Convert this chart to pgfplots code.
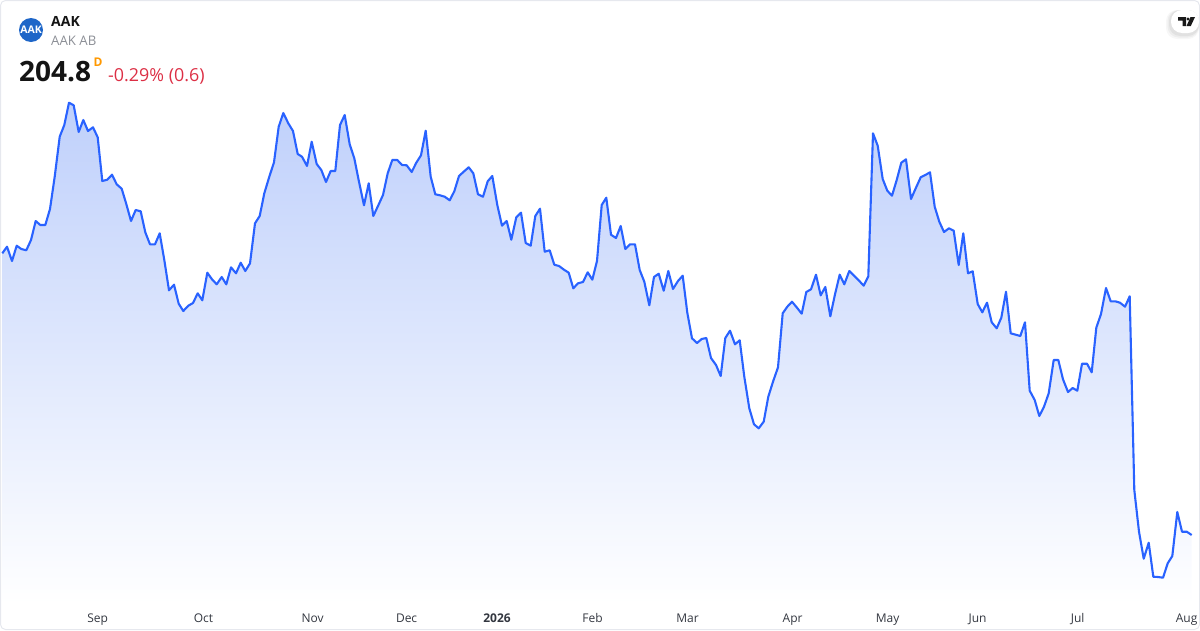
\documentclass[border=0pt]{standalone}
\usepackage{fontspec}
\setmainfont{Open Sans}
\usepackage{pgfplots}
\usepackage{pgfplotstable}
\pgfplotsset{compat=1.18}
\definecolor{lineblue}{HTML}{2962FF}
\definecolor{filltop}{HTML}{BFD0FB}
\definecolor{fillbot}{HTML}{FFFFFF}
\definecolor{cardedge}{HTML}{E6E8EE}
\definecolor{ticktext}{HTML}{333740}
\definecolor{subgray}{HTML}{8C8F96}
\definecolor{downred}{HTML}{DC2F45}
\definecolor{dorange}{HTML}{FF9800}
\definecolor{logoblue}{HTML}{1E66C8}
\pgfplotstableread{
x y
2.3 253.3
7 246.7
12 261
16.7 245.7
21.3 249
26.3 250.3
31 240
35.7 221
40.3 225
45.3 225
50 209
54.7 176.7
59.7 136.7
64.3 125
69 102.7
73.7 105.3
78.7 132
83.3 120
88 131
93 127.3
97.7 137.3
102.3 181
107.3 179.7
112 174.7
116.7 184.3
121.7 188.7
126.3 204
131 221
135.7 210
140.7 211.3
145.3 232.3
150 244.3
155 244.3
159.7 233.3
164.3 260
169 290.3
174 284.7
178.7 303.7
183.3 311
188.3 305.7
193 303
197.7 293.3
202.3 300.3
207.3 272.7
212 279.3
216.7 284.3
221.7 277
226.3 284.3
231 267.3
236 273.3
240.7 262.7
245.3 271
250 263.3
255 223.3
259.7 216
264.3 193.3
269.3 176.7
274 162.3
278.7 126.7
283.3 113
288.3 123.3
293 131
297.7 154
302 156.7
307 166
311.7 141.7
316.7 164
321.3 170
326 182
330.7 171
335.3 171
340 125
344.7 115
349.7 144.3
354.3 158.3
359 181.7
364 205.3
368.7 183.3
373.3 216
378.3 205.3
383 195
387.7 173.3
392.3 160
397.3 160
402 165
406.7 165.3
411.7 172
416.3 162.7
421 155.3
425.7 130.7
430.7 176.7
435.3 194.3
440 195.3
444.7 196.7
449.7 200.3
454.3 191.3
459 176
463.7 171.7
468.7 167.3
473.3 173.3
478 194.3
483 196.7
487.7 181.3
492.3 176
497.3 205
502 225.7
506.7 221
511.3 239.7
516.3 217.3
521 212.7
525.7 243
530.7 245.7
535.3 216
540 208.7
544.7 251.7
549.7 250.3
554.3 264.7
559 266
564 269.7
568.7 272.7
573.3 288.3
578 283.3
583 282
587.7 272.3
592.3 279.7
597 261
601.7 205
606.3 197.7
611 234.7
616 238
620.7 226
625.3 249
630 244.3
635 244.3
639.7 270
644.3 281.7
649.3 305.3
654 277
658.7 273.7
663.7 290.7
668.3 271
673 289
678 281
682.7 275.7
687.3 312.7
692 338.3
697 343
701.7 339
706.3 338
711 358
716 365
720.7 376
725.3 338
730 330.7
735 344.3
739.7 340.3
744.3 376.7
749.3 408.3
754 424.3
758.7 428.3
763.7 421.7
768.3 396.7
773 381.7
778 367.3
782.7 313.3
787.3 306.7
792 301.7
797 307.7
801.7 313.7
806.3 292
811 289.3
816 274.7
820.7 295.3
825.3 287
830.3 316.3
835 294.3
839.7 274.7
844.3 284.3
849.3 271
854 275.7
858.7 280.3
863.7 285.7
868.3 276.3
873 133.3
877.7 145.7
882.7 179
887.3 190.7
892 195.7
896.7 180
901.3 162.7
906 159.3
911 199
915.7 188.3
920.7 177.3
925.3 175
930 172.3
934.7 206.7
939.3 221.7
944 232
949 228.3
953.7 230.7
958.7 265
963.3 233.3
968 273.3
972.7 271.3
977.7 304
982.3 312.3
987 302.7
991.7 322.3
996.7 328.3
1001.3 317.7
1006 291.7
1010.7 333.3
1015.7 334.7
1020.3 336
1025 322.3
1029.7 390.7
1034.7 400
1039.3 416
1044 406.7
1048.7 393.3
1053.7 360
1058.3 360
1063 379.3
1068 392
1072.7 388
1077.3 390.7
1082 363.7
1087 363.7
1091.7 372.3
1096.3 327.7
1101 314
1106 288
1110.7 301.3
1115.3 301.3
1120 302.7
1125 306.7
1129.7 296.3
1134.3 490
1139 531.7
1143.7 558.7
1148.7 542.7
1153.3 576.7
1158 577
1163 577.7
1167.7 563.3
1172.3 556
1177.3 512
1182 531.7
1186.7 531.7
1191.7 535
}\pricedata
\begin{document}
\begin{tikzpicture}
\begin{axis}[
  scale only axis, width=1200pt, height=604pt,
  xmin=0, xmax=1200, ymin=0, ymax=604, y dir=reverse,
  axis line style={draw=none}, clip=false,
  ytick=\empty,
  xtick={97.6,203.4,312.6,406.6,497,592.6,687.6,792.6,887.6,977.6,1077.6,1186.6},
  xticklabels={Sep,Oct,Nov,Dec,\textbf{2026},Feb,Mar,Apr,May,Jun,Jul,Aug},
  major tick length=0pt,
  tick style={draw=none},
  xticklabel pos=lower,
  x tick label style={font=\fontsize{12}{14}\selectfont, text=ticktext},
  xticklabel shift=6pt,
]
\draw[cardedge, line width=1pt, rounded corners=5pt] (axis cs:0.5,0.5) rectangle (axis cs:1199.5,629.5);
\addplot[draw=none, shade, top color=filltop, bottom color=fillbot, forget plot]
  table[x=x,y=y] {\pricedata} -- (axis cs:1191.7,604) -- (axis cs:2.3,604) -- cycle;
\addplot[lineblue, line width=2.1pt, line join=round, no markers, forget plot]
  table[x=x,y=y] {\pricedata};
% header
\fill[logoblue] (axis cs:31,30) circle[radius=12pt];
\node[text=white, font=\fontsize{10.5}{11}\bfseries\selectfont, inner sep=0pt] at (axis cs:31,30) {AAK};
\node[anchor=base west, inner sep=0pt, text=black!92, font=\fontsize{14}{16}\bfseries\selectfont] at (axis cs:51,26) {AAK};
\node[anchor=base west, inner sep=0pt, text=subgray, font=\fontsize{13.2}{14}\selectfont] at (axis cs:51,45.5) {AAK AB};
\node[anchor=base west, inner sep=0pt, text=black!92, font=\fontsize{28}{30}\bfseries\selectfont] at (axis cs:19,81.5) {204.8};
\node[anchor=base west, inner sep=0pt, text=dorange, font=\fontsize{12}{13}\bfseries\selectfont] at (axis cs:93.5,66) {D};
\node[anchor=base west, inner sep=0pt, text=downred, font=\fontsize{17.9}{20}\selectfont] at (axis cs:108,81.5) {-0.29\% (0.6)};
% TradingView badge
\fill[black, opacity=0.03, rounded corners=11pt] (axis cs:1166,10) rectangle (axis cs:1199,39);
\fill[black, opacity=0.04, rounded corners=11pt] (axis cs:1167.5,10) rectangle (axis cs:1199,37.5);
\fill[black, opacity=0.05, rounded corners=11pt] (axis cs:1169,10) rectangle (axis cs:1199,36);
\fill[white, rounded corners=11pt] (axis cs:1171,10) rectangle (axis cs:1199,33);
\fill[black!90] (axis cs:1178,17) -- (axis cs:1186,17) -- (axis cs:1186,26) -- (axis cs:1182.5,26) -- (axis cs:1182.5,20.5) -- (axis cs:1178,20.5) -- cycle;
\fill[black!90] (axis cs:1190.5,17) -- (axis cs:1195,17) -- (axis cs:1190.8,26) -- (axis cs:1186.5,26) -- cycle;
\fill[black!90] (axis cs:1188,19) circle[radius=1.7pt];
\end{axis}
\pgfresetboundingbox
\path[use as bounding box] (0,-26pt) rectangle (1200pt,604pt);
\end{tikzpicture}
\end{document}
